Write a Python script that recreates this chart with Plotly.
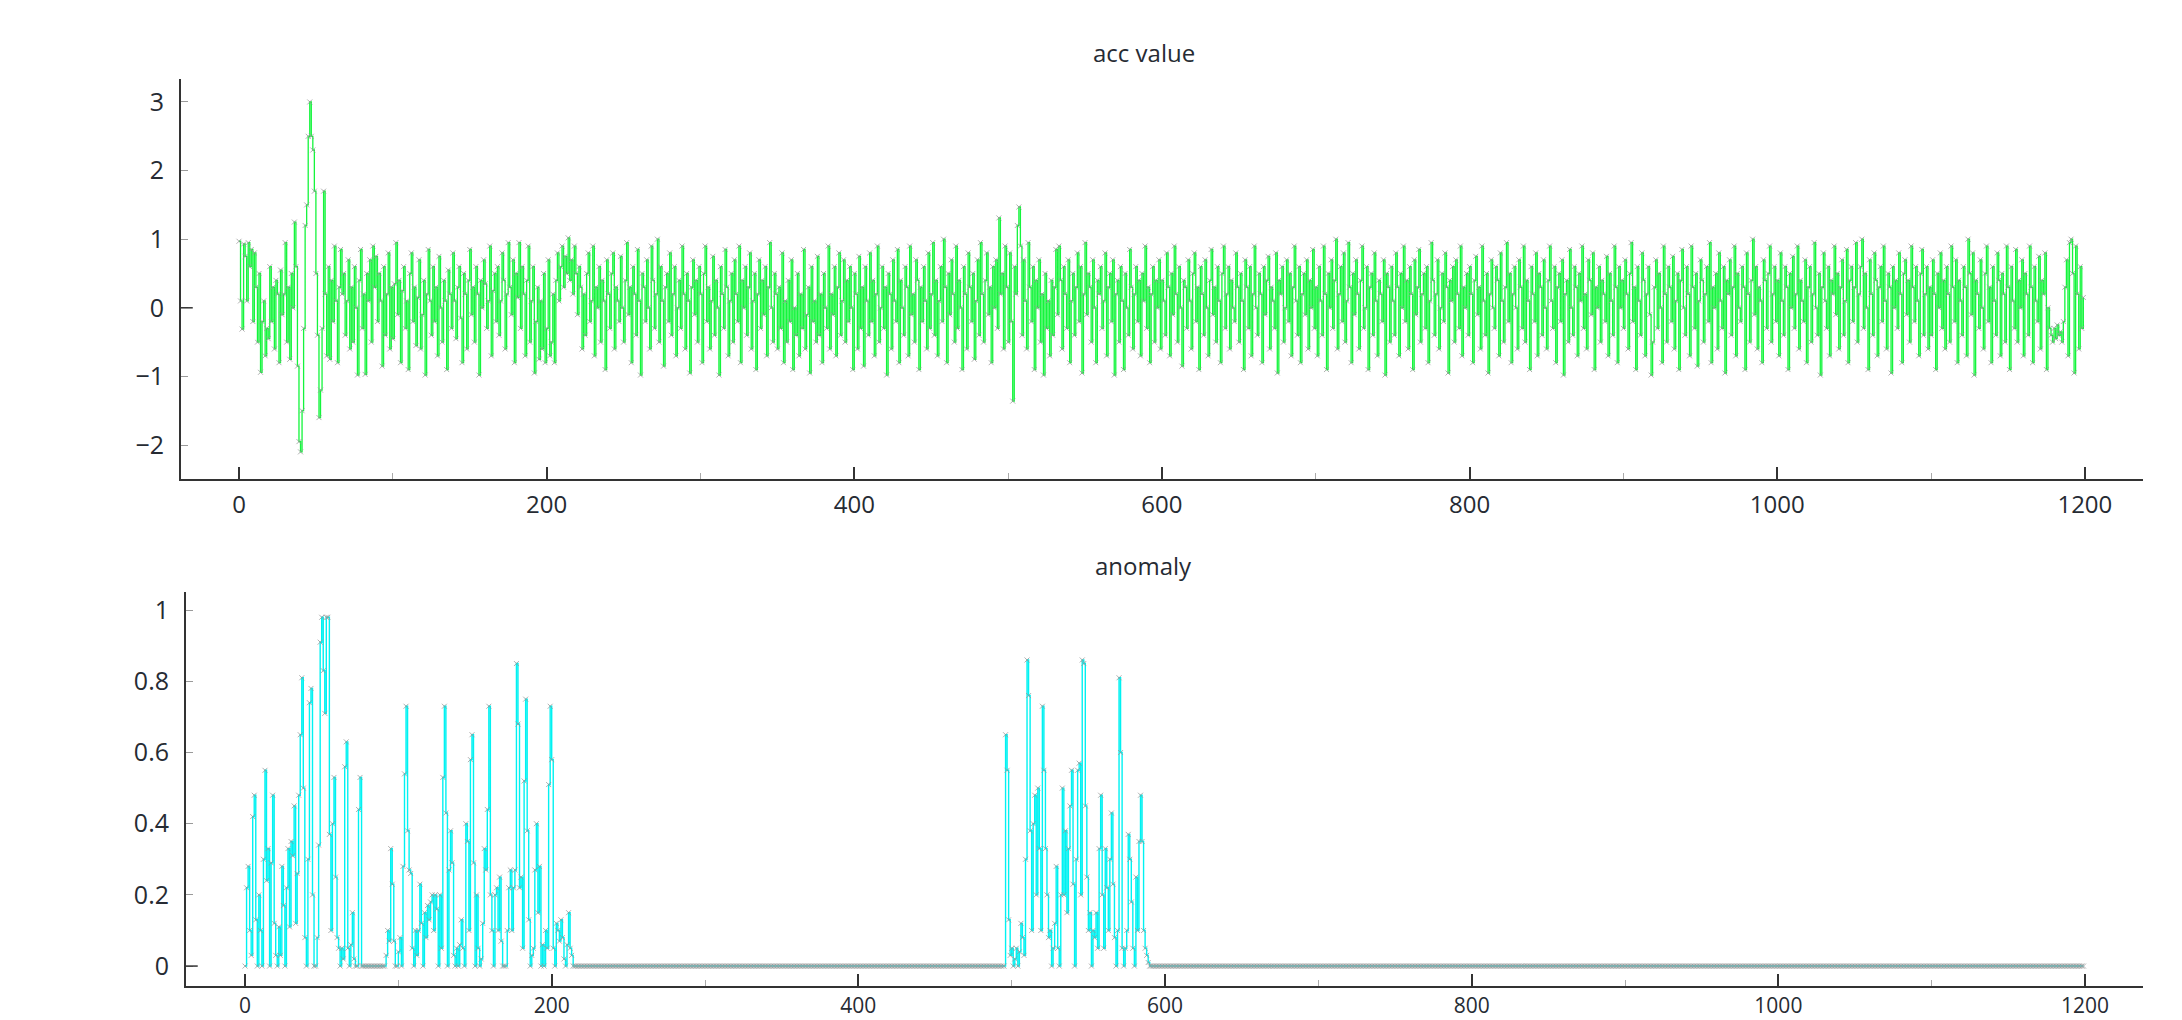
import plotly.graph_objects as go

# ---------------- data ----------------
acc_value = [
    0.97, 0.1, -0.31, 0.93, 0.75, 0.1, 0.95, 0.6, 0.85, -0.2,
    0.8, 0.3, -0.5, 0.5, -0.94, -0.2, 0.1, -0.7, -0.3, -0.45,
    0.6, -0.2, 0.3, -0.6, 0.4, 0.2, -0.8, 0.55, -0.1, 0.2,
    0.95, -0.5, 0.3, -0.75, 0.5, 0.0, 1.25, 0.6, -0.85, -1.95,
    -2.1, -1.5, -0.3, 1.2, 1.5, 2.5, 3.0, 2.5, 2.3, 1.7,
    0.5, -0.4, -1.6, -1.2, -0.3, 1.7, 0.2, -0.7, 0.6, -0.75,
    0.4, -0.2, 0.9, 0.1, -0.8, 0.3, 0.85, 0.2, 0.5, -0.4,
    0.1, 0.7, -0.6, 0.3, -0.5, 0.6, 0.0, -0.98, 0.4, 0.85,
    -0.3, 0.2, -0.97, 0.5, 0.1, 0.7, -0.5, 0.9, 0.3, 0.75,
    -0.2, 0.5, 0.1, -0.85, 0.6, -0.4, 0.2, 0.8, -0.6, 0.3,
    -0.45, 0.35, 0.95, -0.1, 0.4, -0.8, 0.25, 0.6, -0.3, 0.1,
    -0.9, 0.5, 0.8, -0.2, 0.3, -0.55, 0.15, 0.7, -0.6, -0.1,
    0.4, -0.98, 0.2, 0.85, 0.1, -0.4, 0.6, -0.2, 0.3, -0.7,
    0.75, 0.0, -0.5, 0.4, 0.1, -0.9, 0.55, 0.2, -0.3, 0.8,
    0.1, -0.45, 0.3, 0.6, -0.15, -0.8, 0.5, 0.2, -0.6, 0.4,
    0.85, -0.1, 0.3, -0.5, 0.6, 0.2, -0.98, 0.4, 0.0, 0.7,
    0.35, -0.3, 0.1, 0.9, -0.7, 0.25, 0.5, -0.2, 0.6, -0.4,
    0.1, 0.8, 0.4, -0.6, 0.2, 0.95, 0.3, -0.1, 0.7, -0.8,
    0.5, 0.15, 0.95, -0.3, 0.6, 0.2, -0.7, 0.4, 0.9, -0.5,
    0.1, 0.6, -0.95, -0.2, 0.3, -0.75, 0.1, -0.6, 0.5, -0.8,
    -0.3, 0.7, -0.7, -0.5, 0.2, -0.8, 0.4, 0.8, 0.1, 0.6,
    0.9, 0.3, 0.75, 0.5, 1.02, 0.4, 0.7, 0.2, 0.9, 0.5,
    -0.1, 0.6, 0.3, -0.6, 0.2, -0.4, 0.5, 0.8, -0.2, 0.1,
    0.9, -0.7, 0.3, 0.0, 0.6, -0.5, 0.4, 0.1, -0.9, 0.7,
    0.2, -0.3, 0.5, 0.8, -0.6, 0.3, 0.1, -0.2, 0.75, 0.0,
    -0.5, 0.4, 0.95, -0.1, 0.3, -0.8, 0.6, 0.2, -0.4, 0.85,
    0.1, -0.98, 0.5, 0.3, -0.2, 0.7, 0.0, -0.6, 0.9, 0.4,
    -0.3, 0.2, 1.0, -0.5, 0.6, 0.1, -0.85, 0.3, 0.5, -0.2,
    0.8, -0.4, 0.2, 0.6, -0.7, 0.0, 0.4, -0.3, 0.9, 0.2,
    -0.6, 0.5, 0.1, -0.95, 0.3, 0.7, -0.1, 0.4, -0.5, 0.6,
    0.2, -0.8, 0.5, 0.9, -0.2, 0.3, -0.6, 0.1, 0.75, -0.4,
    0.4, 0.0, -0.98, 0.6, 0.2, -0.3, 0.85, 0.3, -0.7, 0.1,
    0.5, -0.5, 0.7, 0.2, -0.2, 0.9, -0.8, 0.4, 0.0, 0.6,
    -0.4, 0.3, 0.8, -0.6, 0.1, 0.5, -0.9, 0.2, 0.7, -0.3,
    0.4, -0.1, 0.6, -0.7, 0.3, 0.95, 0.0, -0.5, 0.5, 0.2,
    -0.6, 0.3, -0.3, 0.8, -0.8, 0.1, -0.5, 0.4, -0.2, 0.7,
    -0.9, 0.0, -0.4, 0.5, -0.7, 0.2, -0.3, 0.85, -0.6, -0.1,
    0.3, -0.95, 0.6, -0.2, 0.1, -0.5, 0.75, -0.4, 0.2, -0.8,
    0.5, 0.0, -0.3, 0.9, -0.6, 0.2, -0.1, 0.6, -0.7, 0.3,
    0.8, -0.4, 0.1, 0.7, -0.5, 0.4, -0.2, 0.6, 0.0, -0.9,
    0.5, 0.2, -0.6, 0.75, -0.3, 0.3, -0.85, 0.6, 0.1, -0.4,
    0.8, -0.2, 0.4, -0.7, 0.2, 0.9, -0.5, 0.0, 0.6, -0.3,
    0.3, -0.98, 0.5, 0.2, -0.6, 0.7, 0.1, -0.2, 0.85, -0.8,
    0.4, 0.0, -0.4, 0.6, 0.3, -0.7, 0.9, -0.1, 0.2, -0.5,
    0.7, 0.4, -0.9, 0.3, -0.2, 0.6, 0.1, -0.6, 0.8, -0.3,
    0.2, 0.95, -0.4, 0.4, -0.7, 0.1, 0.6, -0.2, 1.0, 0.3,
    -0.8, 0.5, -0.1, 0.7, 0.2, -0.5, 0.9, -0.3, 0.4, 0.0,
    -0.9, 0.6, 0.2, -0.6, 0.8, 0.3, -0.2, 0.5, -0.75, 0.1,
    0.7, -0.4, 0.95, 0.2, -0.5, 0.4, 0.8, -0.1, 0.3, -0.8,
    0.6, 0.0, 0.7, -0.3, 1.31, 0.2, 0.5, -0.6, 0.9, 0.3,
    -0.5, 0.8, -0.2, -1.36, 0.6, 0.2, 1.2, 1.47, 0.9, -0.4,
    0.7, 0.1, -0.6, 0.95, 0.3, -0.2, 0.6, -0.9, 0.4, 0.0,
    0.7, -0.5, 0.2, -0.98, 0.5, -0.3, 0.1, -0.7, 0.4, -0.4,
    0.3, 0.85, -0.1, 0.9, 0.4, -0.6, 0.6, 0.2, -0.3, 0.7,
    -0.8, 0.1, 0.5, -0.4, 0.3, 0.8, -0.2, 0.6, -0.95, 0.2,
    0.95, -0.1, 0.5, 0.3, -0.5, 0.7, 0.0, -0.8, 0.4, 0.2,
    0.6, -0.3, 0.1, 0.8, -0.7, 0.3, 0.5, -0.2, 0.7, -0.98,
    0.2, 0.4, -0.5, 0.6, 0.1, -0.9, 0.5, 0.0, -0.4, 0.85,
    0.3, -0.6, 0.2, 0.6, -0.2, 0.4, -0.7, 0.5, 0.1, 0.9,
    -0.3, 0.3, -0.8, 0.2, 0.6, -0.5, 0.4, 0.0, 0.7, -0.6,
    0.4, 0.1, -0.4, 0.8, 0.3, -0.7, 0.5, -0.1, 0.9, 0.2,
    -0.5, 0.6, 0.0, -0.85, 0.4, 0.3, -0.3, 0.7, 0.1, -0.6,
    0.5, 0.8, -0.2, 0.3, -0.9, 0.6, 0.2, -0.4, 0.7, 0.0,
    -0.7, 0.4, 0.85, -0.1, 0.3, -0.5, 0.6, 0.1, -0.8, 0.5,
    0.9, -0.3, 0.2, 0.6, -0.6, 0.4, 0.0, -0.2, 0.8, 0.3,
    -0.5, 0.5, 0.1, -0.9, 0.7, 0.3, -0.3, 0.6, -0.7, 0.2,
    0.9, 0.0, -0.4, 0.5, 0.2, -0.8, 0.6, -0.1, 0.4, 0.75,
    -0.6, 0.3, 0.1, -0.3, 0.8, -0.95, 0.4, 0.2, 0.6, -0.5,
    0.0, 0.7, -0.2, 0.5, -0.7, 0.3, 0.9, 0.1, -0.4, 0.6,
    -0.8, 0.2, 0.5, -0.1, 0.7, -0.6, 0.4, 0.0, 0.85, -0.3,
    0.3, -0.7, 0.6, 0.1, -0.4, 0.9, 0.2, -0.9, 0.5, 0.0,
    0.7, -0.3, 0.4, 1.0, -0.6, 0.2, 0.6, -0.2, 0.8, -0.5,
    0.1, 0.95, 0.3, -0.8, 0.5, -0.1, 0.7, 0.2, -0.6, 0.4,
    0.9, -0.3, 0.0, 0.6, -0.9, 0.3, 0.5, -0.4, 0.8, 0.1,
    -0.7, 0.4, 0.2, -0.2, 0.7, -0.98, 0.5, 0.3, -0.5, 0.6,
    0.1, -0.4, 0.8, 0.3, -0.7, 0.5, 0.0, 0.9, -0.2, 0.4,
    -0.6, 0.6, 0.2, -0.9, 0.7, -0.1, 0.3, 0.85, -0.5, 0.2,
    0.5, -0.3, 0.6, -0.8, 0.1, 0.95, 0.4, -0.4, 0.2, 0.7,
    -0.6, 0.0, 0.5, -0.2, 0.8, 0.3, -0.95, 0.4, 0.1, 0.6,
    -0.5, 0.7, 0.2, -0.3, 0.9, -0.7, 0.3, 0.0, 0.5, -0.4,
    0.6, 0.2, -0.8, 0.4, 0.75, -0.1, 0.3, -0.6, 0.9, 0.1,
    -0.4, 0.5, -0.95, 0.2, 0.7, 0.0, -0.3, 0.6, 0.4, -0.7,
    0.8, 0.1, -0.5, 0.3, 0.95, -0.2, 0.5, -0.8, 0.2, 0.6,
    0.0, -0.6, 0.7, 0.3, -0.3, 0.9, -0.5, 0.4, 0.1, -0.9,
    0.6, 0.2, -0.2, 0.8, -0.7, 0.5, 0.3, -0.4, 0.7, 0.0,
    -0.6, 0.4, 0.9, 0.1, -0.3, 0.6, -0.8, 0.3, 0.5, -0.2,
    0.7, -0.98, 0.2, 0.4, -0.5, 0.85, 0.0, -0.4, 0.6, 0.3,
    -0.7, 0.5, 0.1, 0.9, -0.3, 0.2, -0.6, 0.7, 0.4, -0.1,
    0.8, -0.9, 0.3, 0.0, 0.6, -0.5, 0.4, 0.2, -0.2, 0.75,
    -0.7, 0.5, 0.1, -0.4, 0.9, 0.3, -0.8, 0.6, 0.0, 0.4,
    -0.3, 0.7, 0.2, -0.6, 0.5, 0.95, -0.2, 0.3, -0.9, 0.6,
    0.1, -0.4, 0.8, 0.4, -0.7, 0.2, 0.6, -0.1, -0.98, -0.5,
    0.3, 0.7, -0.3, 0.5, 0.0, -0.8, 0.9, 0.2, -0.5, 0.6,
    0.3, -0.2, 0.75, -0.6, 0.1, 0.5, -0.9, 0.4, 0.85, 0.0,
    -0.4, 0.6, 0.2, -0.7, 0.9, 0.3, -0.3, 0.5, -0.85, 0.1,
    0.7, 0.4, -0.5, 0.2, 0.6, -0.2, 0.95, -0.8, 0.3, 0.0,
    0.5, -0.6, 0.8, 0.1, -0.3, 0.6, -0.95, 0.4, 0.2, 0.7,
    -0.4, 0.3, 0.9, -0.7, 0.5, 0.0, -0.2, 0.6, 0.3, -0.9,
    0.8, 0.2, -0.5, 0.4, 1.0, -0.1, 0.6, -0.6, 0.3, 0.1,
    -0.8, 0.7, 0.4, -0.3, 0.5, 0.9, -0.5, 0.2, 0.6, -0.2,
    0.4, -0.7, 0.8, 0.1, -0.4, 0.6, 0.3, -0.9, 0.5, 0.0,
    0.75, -0.3, 0.2, 0.9, -0.6, 0.4, 0.1, -0.2, 0.7, -0.8,
    0.3, 0.6, -0.5, 0.2, 0.95, 0.0, -0.4, 0.5, -0.98, 0.3,
    0.8, 0.1, -0.3, 0.6, -0.7, 0.4, 0.2, 0.9, -0.1, 0.5,
    -0.6, 0.3, 0.7, -0.4, 0.1, 0.85, -0.8, 0.4, 0.6, -0.2,
    0.3, 0.95, -0.5, 0.2, 0.6, 1.0, -0.3, 0.5, 0.0, -0.9,
    0.7, 0.2, -0.4, 0.8, 0.4, -0.7, 0.3, 0.6, -0.2, 0.9,
    0.1, -0.6, 0.5, 0.3, -0.95, 0.6, 0.0, 0.4, -0.3, 0.8,
    0.2, -0.8, 0.5, 0.7, -0.1, 0.4, -0.5, 0.9, 0.3, -0.2,
    0.6, 0.1, -0.7, 0.5, 0.85, -0.4, 0.2, 0.6, -0.6, 0.3,
    -0.4, 0.7, 0.2, -0.9, 0.5, 0.0, 0.8, -0.3, 0.4, -0.6,
    0.6, 0.2, -0.5, 0.9, 0.3, -0.2, 0.7, -0.8, 0.4, 0.1,
    -0.4, 0.6, 0.3, -0.7, 1.0, 0.5, -0.1, 0.8, -0.98, 0.4,
    0.2, -0.3, 0.7, 0.0, -0.6, 0.5, 0.9, -0.2, 0.3, -0.8,
    0.6, 0.1, -0.4, 0.8, 0.4, -0.7, 0.5, 0.2, -0.5, 0.9,
    0.3, -0.9, 0.6, 0.1, -0.3, 0.85, -0.5, 0.4, 0.0, 0.7,
    -0.7, 0.5, 0.2, -0.4, 0.9, 0.3, -0.8, 0.6, 0.1, -0.2,
    0.75, -0.6, 0.4, 0.2, 0.8, -0.9, 0.0, -0.3, -0.4, -0.5,
    -0.3, -0.45, -0.25, -0.4, -0.35, -0.5, -0.2, 0.3, 0.7, -0.7,
    0.95, 1.0, 0.5, -0.95, 0.9, 0.2, -0.6, 0.6, -0.3, 0.15,
]

# anomaly score: active stretches and the flat zero stretches between them
anomaly_burst_1 = [  # samples 0..76
    0.0, 0.22, 0.28, 0.1, 0.03, 0.42, 0.48, 0.13, 0.0, 0.2,
    0.1, 0.0, 0.3, 0.55, 0.24, 0.33, 0.0, 0.29, 0.48, 0.12,
    0.03, 0.0, 0.11, 0.03, 0.28, 0.17, 0.0, 0.22, 0.33, 0.11,
    0.35, 0.31, 0.45, 0.12, 0.26, 0.48, 0.65, 0.81, 0.5, 0.08,
    0.0, 0.3, 0.74, 0.78, 0.2, 0.0, 0.0, 0.08, 0.34, 0.91,
    0.98, 0.83, 0.71, 0.98, 0.98, 0.37, 0.1, 0.4, 0.53, 0.25,
    0.08, 0.05, 0.0, 0.05, 0.02, 0.56, 0.63, 0.05, 0.0, 0.06,
    0.15, 0.02, 0.0, 0.0, 0.44, 0.53, 0.0,
]
anomaly_quiet_1 = [0.0] * 15       # samples 77..91
anomaly_burst_2 = [  # samples 92..214
    0.03, 0.1, 0.07, 0.33, 0.23, 0.07, 0.0, 0.0, 0.04, 0.08,
    0.0, 0.28, 0.54, 0.73, 0.38, 0.27, 0.26, 0.05, 0.0, 0.1,
    0.03, 0.1, 0.23, 0.12, 0.0, 0.15, 0.08, 0.17, 0.13, 0.18,
    0.2, 0.1, 0.2, 0.16, 0.0, 0.2, 0.05, 0.53, 0.73, 0.43,
    0.0, 0.27, 0.38, 0.29, 0.03, 0.0, 0.05, 0.0, 0.06, 0.13,
    0.05, 0.0, 0.4, 0.35, 0.1, 0.58, 0.65, 0.29,
    0.0, 0.2, 0.05, 0.0, 0.02, 0.12, 0.33, 0.27, 0.44, 0.73,
    0.2, 0.1, 0.0, 0.2, 0.22, 0.1, 0.25, 0.07, 0.0, 0.0,
    0.0, 0.1, 0.22, 0.27, 0.1, 0.22, 0.27, 0.85, 0.68, 0.22,
    0.25, 0.05, 0.52, 0.75, 0.38, 0.13, 0.0, 0.03, 0.05, 0.27,
    0.4, 0.15, 0.28, 0.0, 0.06, 0.0, 0.1, 0.05, 0.51, 0.73,
    0.58, 0.05, 0.0, 0.12, 0.1, 0.07, 0.13, 0.08, 0.02, 0.0,
    0.06, 0.15, 0.05, 0.03, 0.0,
]
anomaly_quiet_2 = [0.0] * 280      # samples 215..494
anomaly_burst_3 = [  # samples 495..590
    0.0, 0.65, 0.55, 0.13, 0.03, 0.05, 0.0, 0.02, 0.05, 0.0,
    0.04, 0.12, 0.08, 0.03, 0.3, 0.86, 0.76, 0.38, 0.1, 0.4,
    0.48, 0.2, 0.5, 0.33, 0.1, 0.73, 0.55, 0.33, 0.2, 0.08,
    0.1, 0.0, 0.05, 0.12, 0.28, 0.05, 0.0, 0.2, 0.5, 0.2,
    0.38, 0.15, 0.33, 0.45, 0.55, 0.23, 0.0, 0.3, 0.55, 0.57,
    0.2, 0.86, 0.85, 0.45, 0.25, 0.1, 0.15, 0.0, 0.1, 0.08,
    0.15, 0.05, 0.33, 0.48, 0.2, 0.05, 0.33, 0.22, 0.1, 0.3,
    0.43, 0.23, 0.08, 0.0, 0.1, 0.81, 0.6, 0.05, 0.0, 0.05,
    0.1, 0.37, 0.3, 0.18, 0.05, 0.0, 0.25, 0.1, 0.35, 0.48,
    0.35, 0.1, 0.05, 0.03, 0.01, 0.0,
]
anomaly_quiet_3 = [0.0] * 609      # samples 591..1199

anomaly = (anomaly_burst_1 + anomaly_quiet_1 + anomaly_burst_2 +
           anomaly_quiet_2 + anomaly_burst_3 + anomaly_quiet_3)

sample_idx = list(range(len(acc_value)))
anom_idx = list(range(len(anomaly)))

titles = ["acc value", "anomaly"]
x_tick_vals = [0, 200, 400, 600, 800, 1000, 1200]

# ---------------- figure ----------------
FONT = "Open Sans, Noto Sans, DejaVu Sans, sans-serif"
TXT = "#262b33"
AX = "#333333"
MARK = dict(symbol="x-thin", size=5, line=dict(width=1, color="rgba(150,150,150,0.75)"))

fig = go.Figure()
fig.add_trace(go.Scatter(
    x=sample_idx, y=acc_value, mode="lines+markers", line_shape="hv",
    line=dict(color="#14f53c", width=1.3), marker=MARK,
    xaxis="x", yaxis="y", hoverinfo="x+y"))
fig.add_trace(go.Scatter(
    x=anom_idx, y=anomaly, mode="lines+markers", line_shape="hv",
    line=dict(color="#00f2f2", width=1.4), marker=MARK,
    xaxis="x2", yaxis="y2", hoverinfo="x+y"))

common_x = dict(
    showline=True, linecolor=AX, linewidth=2, showgrid=False, zeroline=False,
    automargin=False,
    ticks="inside", ticklen=12, tickwidth=1.5, tickcolor=AX,
    tickvals=x_tick_vals,
    minor=dict(dtick=100, tick0=0, ticks="inside", ticklen=6, tickwidth=1, tickcolor="#aaaaaa"),
)
common_y = dict(
    showline=True, linecolor=AX, linewidth=2, showgrid=False, zeroline=False,
    automargin=False,
    ticks="inside", ticklen=7, tickwidth=1, tickcolor="#9a9a9a",
    ticklabelstandoff=10,
    tickfont=dict(family=FONT, size=25, color=TXT),
)

fig.update_layout(
    width=2182, height=1020,
    margin=dict(l=181, r=39, t=79, b=34, autoexpand=False),
    paper_bgcolor="white", plot_bgcolor="white",
    showlegend=False,
    xaxis=dict(domain=[0, 1], anchor="y", range=[-37.7, 1237.8],
               ticklabelstandoff=3, tickfont=dict(family=FONT, size=24, color=TXT), **common_x),
    yaxis=dict(domain=[0.559, 1], anchor="x", range=[-2.495, 3.335], dtick=1, tick0=0, **common_y),
    xaxis2=dict(domain=[0.00255, 1], anchor="y2", range=[-38.5, 1237.8],
                ticklabelstandoff=0, tickfont=dict(family=FONT, size=21, color=TXT), **common_x),
    yaxis2=dict(domain=[0, 0.4344], anchor="x2", range=[-0.056, 1.051], dtick=0.2, tick0=0, **common_y),
    annotations=[
        dict(text=titles[0], xref="paper", yref="paper", x=0.4908, y=1.0287,
             xanchor="center", yanchor="middle", showarrow=False,
             font=dict(family=FONT, size=24, color=TXT)),
        dict(text=titles[1], xref="paper", yref="paper", x=0.4908, y=0.4631,
             xanchor="center", yanchor="middle", showarrow=False,
             font=dict(family=FONT, size=24, color=TXT)),
    ],
    shapes=[
        # the longer, darker tick marking zero on each value axis
        dict(type="line", xref="x domain", yref="y", x0=0, x1=0.006, y0=0, y1=0,
             line=dict(color=AX, width=1.5)),
        dict(type="line", xref="x2 domain", yref="y2", x0=0, x1=0.006, y0=0, y1=0,
             line=dict(color=AX, width=1.5)),
    ],
)

# drop the browser's default 8px page margin so the figure fills the window exactly
fig.write_html("out.html",
               config={"displayModeBar": False},
               post_script="document.body.style.margin='0';document.body.style.overflow='hidden';")
